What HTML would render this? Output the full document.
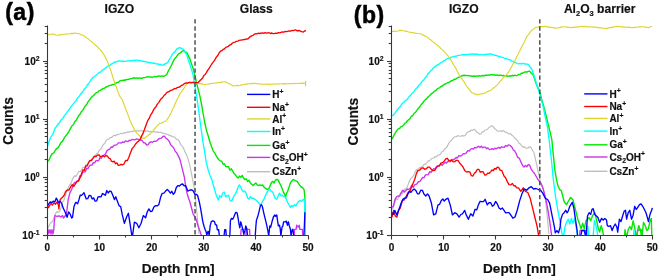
<!DOCTYPE html>
<html><head><meta charset="utf-8"><style>
html,body{margin:0;padding:0;background:#fff;width:660px;height:279px;overflow:hidden}
svg{display:block;will-change:transform}
</style></head><body>
<svg width="660" height="279" viewBox="0 0 660 279">
<rect width="660" height="279" fill="#fff"/>
<clipPath id="c47"><rect x="47.5" y="0" width="300" height="235"/></clipPath>
<g fill="none" stroke-linejoin="round" stroke-linecap="butt" clip-path="url(#c47)">
<polyline points="47.6,228.5 49.4,224.9 51.2,222.3 52.5,221.6 53.9,217.8 55.6,213.3 57.0,211.6 58.3,212.4 59.6,211.6 61.0,207.9 62.4,202.3 63.7,200.8 65.5,195.4 67.3,190.0 69.6,185.1 71.2,182.8 72.9,178.4 74.4,175.9 75.8,176.4 77.3,174.0 78.8,171.3 80.3,171.7 81.8,169.6 83.1,167.2 84.4,167.4 85.8,164.7 87.1,164.6 88.4,162.9 89.7,160.9 91.1,160.5 92.4,158.2 93.8,158.0 95.1,156.2 96.4,153.9 97.8,153.3 99.1,150.4 100.5,149.6 101.8,147.3 103.3,144.5 104.7,143.4 106.2,140.7 107.5,139.2 108.9,139.2 110.2,137.5 111.6,137.5 112.9,136.2 114.2,135.2 115.6,135.8 116.9,134.5 118.3,134.6 119.6,134.0 121.0,133.2 122.4,133.7 123.9,132.6 125.3,132.9 126.7,132.4 128.0,131.9 129.3,132.2 130.7,131.3 132.0,131.6 133.3,131.1 134.6,130.7 136.0,131.4 137.3,130.4 138.7,131.2 140.0,130.7 141.3,130.4 142.7,131.4 144.0,130.4 145.4,131.4 146.7,131.1 148.0,130.8 149.3,131.9 150.7,131.2 152.0,132.2 153.3,131.8 154.6,131.6 156.0,132.2 157.3,131.9 158.7,132.5 160.0,132.4 161.3,132.4 162.7,133.5 164.0,133.0 165.4,134.1 166.7,134.0 168.0,134.3 169.3,135.7 170.7,135.4 172.0,136.7 173.3,136.9 174.8,137.2 176.3,139.1 177.8,139.6 179.3,141.2 180.7,144.7 182.2,146.2 183.7,148.6 185.2,152.5 186.7,155.1 188.3,159.9 190.0,166.2 192.2,177.3 193.8,186.0 194.7,190.8 196.8,212.3 199.0,234.0" stroke="#bebebe" stroke-width="1.15"/>
<polyline points="47.6,238.0 48.0,229.6 49.0,233.0 50.0,229.6 51.0,234.0 52.0,229.6 53.0,234.0 53.8,229.6 54.3,222.0 55.0,215.5 57.0,216.5 59.0,215.8 61.0,217.0 62.5,215.5 63.5,218.0 65.0,216.0 66.3,215.5 67.3,207.0 68.2,199.5 70.0,192.7 71.5,190.0 72.9,185.6 74.6,182.4 76.2,182.2 77.3,180.7 78.6,180.3 80.0,175.6 81.3,176.0 82.7,172.3 84.0,171.8 85.3,171.8 86.7,168.3 88.0,168.7 89.4,166.0 90.7,165.1 92.0,165.1 93.3,162.6 94.7,162.8 96.0,160.5 97.3,160.7 98.6,160.7 100.0,157.6 101.3,158.3 102.7,155.6 104.0,155.1 105.5,154.0 106.9,150.8 108.4,149.6 109.7,149.1 111.1,147.0 112.4,147.3 113.8,145.6 115.1,145.1 116.7,144.9 118.4,142.9 120.0,142.9 121.3,143.0 122.7,141.9 124.0,142.5 125.4,140.9 126.7,141.3 128.0,141.5 129.3,140.3 130.7,140.5 132.0,139.4 133.3,139.6 134.8,139.9 136.3,139.0 137.8,139.1 139.3,140.0 140.7,139.8 142.2,140.7 143.7,142.8 145.2,143.0 146.7,145.1 148.2,144.7 149.6,142.4 151.1,141.8 152.6,142.3 154.1,141.2 155.6,141.3 157.1,140.6 158.5,139.0 160.0,138.4 161.5,138.2 162.9,136.4 164.4,136.2 166.1,138.3 167.8,139.6 169.3,141.5 170.7,144.7 172.2,146.2 173.7,147.9 175.2,151.3 176.7,152.9 178.3,155.9 180.0,159.6 182.2,168.4 184.4,177.3 185.6,186.0 186.9,192.6 188.2,197.2 189.8,201.5 191.5,208.0 193.1,213.8 194.7,216.6 196.3,219.8 197.9,225.2 200.1,231.6 202.2,238.0 203.5,238.0 204.8,238.0 206.0,238.0 207.3,238.0 208.6,238.0 209.9,238.0 211.1,238.0 212.4,238.0 213.7,238.0 215.0,238.0 216.2,238.0 217.5,238.0 218.8,238.0 220.1,238.0 221.3,238.0 222.6,238.0 223.9,238.0 225.2,238.0 226.5,238.0 227.7,238.0 229.0,238.0 230.3,238.0 231.6,238.0 232.8,238.0 234.1,238.0 235.4,238.0 236.7,238.0 237.9,238.0 239.2,238.0 240.5,238.0 241.2,229.3 243.5,229.3 243.9,238.0 245.8,238.0 246.2,229.3 247.9,229.3 249.6,229.3 250.0,238.0 251.3,238.0 252.5,238.0 253.8,238.0 255.0,238.0 256.3,238.0 257.5,238.0 258.8,238.0 260.1,238.0 261.3,238.0 262.6,238.0 263.8,238.0 265.1,238.0 266.3,238.0 267.6,238.0 268.9,238.0 270.1,238.0 271.4,238.0 272.6,238.0 273.9,238.0 275.1,238.0 276.4,238.0 277.7,238.0 278.9,238.0 280.2,238.0 281.4,238.0 282.7,238.0 283.9,238.0 285.2,238.0 286.5,238.0 287.7,238.0 289.0,238.0 290.2,238.0 291.5,238.0 292.7,238.0 294.0,238.0 294.5,229.3 296.2,229.3 296.6,225.2 298.0,227.1 299.3,225.2 299.8,229.3 301.1,229.3 302.4,229.3 303.0,238.0" stroke="#cc33ee" stroke-width="1.35"/>
<polyline points="47.3,161.8 49.0,160.0 50.7,156.2 52.2,153.6 53.6,153.2 55.1,150.7 56.6,148.5 58.1,147.8 59.6,145.1 61.1,142.4 62.5,141.4 64.0,138.4 65.7,135.9 67.3,134.0 69.0,131.4 70.7,128.2 72.0,125.7 73.3,124.7 74.7,121.8 76.0,120.6 77.3,118.2 78.6,115.8 80.0,114.3 81.3,111.8 82.7,110.4 84.0,108.2 85.3,106.0 86.7,104.5 88.0,101.9 89.4,100.3 90.7,98.2 92.2,96.5 93.6,95.6 95.1,93.8 96.4,92.7 97.8,92.2 99.1,90.8 100.5,90.4 101.8,89.3 103.1,88.4 104.4,88.3 105.8,87.0 107.1,86.8 108.4,86.0 109.7,85.4 111.1,85.4 112.4,84.5 113.8,84.6 115.1,83.8 116.7,82.6 118.4,82.2 120.0,80.9 121.3,80.5 122.5,80.6 123.8,80.0 125.1,80.3 126.4,79.4 127.6,79.6 128.9,79.3 130.4,78.6 131.8,78.6 133.3,78.0 134.6,77.8 135.8,78.3 137.1,77.8 138.4,78.3 139.7,77.9 140.9,78.3 142.2,78.2 143.7,77.6 145.2,77.6 146.7,76.9 148.0,76.7 149.3,77.2 150.7,76.8 152.0,77.3 153.3,77.1 154.8,76.4 156.3,76.8 157.8,76.2 159.1,75.9 160.4,76.3 161.8,75.9 163.1,76.4 164.4,76.0 166.7,74.7 168.3,71.0 170.0,68.0 171.5,65.2 172.9,61.9 174.4,59.1 175.9,57.6 177.4,55.3 178.9,53.6 180.4,52.9 181.8,51.4 183.3,50.7 185.0,51.8 186.7,52.4 188.3,55.6 190.0,59.1 191.7,64.4 193.3,69.1 194.9,75.6 196.5,82.5 198.2,89.3 199.8,95.7 201.5,104.0 203.2,114.0 205.0,124.0 206.7,131.1 208.3,136.2 210.0,142.2 211.7,147.0 213.3,151.1 215.0,153.4 216.7,156.7 218.6,159.5 220.4,161.1 221.7,161.3 223.1,164.3 224.4,163.8 225.8,166.6 227.1,166.7 228.5,166.6 229.9,170.2 231.3,168.8 232.7,171.1 234.0,173.4 235.4,174.7 236.7,176.8 238.1,178.1 239.4,176.1 240.8,177.4 242.2,175.4 243.5,178.1 244.9,179.5 246.3,178.8 247.6,181.5 249.0,180.2 250.3,182.9 251.7,184.3 253.1,185.6 254.4,184.3 255.8,182.9 257.2,184.9 258.5,185.6 259.9,184.9 261.2,185.6 262.6,184.9 264.0,187.0 265.3,188.3 266.7,189.0 268.1,189.7 269.4,187.7 270.8,183.9 272.0,181.8 272.7,181.5 274.1,182.9 275.4,180.2 276.8,179.5 278.2,180.2 279.5,182.9 280.9,185.6 282.3,189.0 283.6,192.4 285.0,195.2 285.7,197.2 286.3,193.8 287.7,191.1 289.1,187.0 290.4,182.9 291.8,180.9 293.2,179.5 294.5,180.2 295.9,180.9 297.2,181.5 298.6,183.6 300.0,185.6 301.3,187.0 302.7,187.7 304.1,189.7 304.8,196.5 305.0,210.0 305.1,238.0" stroke="#00e800" stroke-width="1.4"/>
<polyline points="47.3,147.3 48.4,142.9 50.7,137.3 52.9,134.0 55.1,128.2 56.4,126.6 57.8,124.4 59.1,123.4 60.5,120.9 61.8,119.3 63.1,118.0 64.4,115.5 65.8,114.2 67.1,112.0 68.4,110.4 69.7,108.8 71.1,106.7 72.4,105.3 73.8,103.1 75.1,101.6 76.4,100.2 77.8,97.7 79.1,96.5 80.5,94.3 81.8,92.7 83.1,91.1 84.4,88.9 85.8,87.7 87.1,85.3 88.4,83.8 90.0,81.7 91.5,79.0 93.3,77.3 95.1,76.0 96.6,75.0 98.1,73.4 99.6,72.4 100.9,71.8 102.1,70.3 103.4,69.7 104.6,68.5 105.9,67.8 107.1,66.5 108.4,65.8 109.7,65.4 111.1,64.1 112.4,63.7 113.8,62.5 115.1,62.0 116.6,61.9 118.1,61.0 119.6,60.9 121.1,61.3 122.5,61.0 124.0,61.3 125.6,61.4 127.3,60.8 128.9,60.9 130.2,61.0 131.4,60.6 132.7,60.7 134.0,60.2 135.3,60.5 136.5,60.1 137.8,60.2 139.1,60.6 140.3,60.5 141.6,61.3 142.9,61.1 144.2,61.7 145.4,61.4 146.7,62.0 148.0,62.5 149.2,62.3 150.5,63.0 151.8,62.7 153.1,63.4 154.3,63.1 155.6,63.6 156.9,64.0 158.2,63.9 159.4,64.6 160.7,64.3 162.0,65.2 163.3,65.1 164.8,63.9 166.3,63.5 167.8,62.4 169.3,59.7 170.7,57.4 172.2,54.7 173.7,52.7 175.2,51.3 176.7,49.1 178.3,48.1 180.0,47.6 181.7,48.6 183.3,49.1 185.0,51.6 186.7,54.7 188.3,59.9 190.0,64.7 191.7,70.1 193.3,75.8 194.5,84.0 196.5,95.7 198.9,112.0 201.1,128.9 203.3,144.4 204.4,150.0 206.0,161.1 208.2,170.0 209.9,175.2 211.6,178.9 213.8,186.7 216.0,194.4 218.2,200.0 219.7,195.7 221.2,197.2 222.7,193.3 224.2,191.9 225.6,196.7 227.1,195.6 228.6,195.3 230.1,200.9 231.6,201.1 234.0,195.8 235.4,193.8 236.7,191.1 238.1,187.0 239.4,184.9 240.8,187.0 242.2,190.4 243.5,191.8 244.9,191.1 246.3,193.8 247.6,197.9 249.0,199.2 250.3,196.5 251.7,198.6 253.1,197.9 254.4,199.2 255.8,199.9 257.2,201.3 258.5,202.7 259.9,204.7 261.2,204.0 262.6,201.3 264.0,199.2 265.3,195.8 266.7,193.1 268.1,190.4 269.4,189.0 270.8,190.7 272.0,192.0 272.7,191.8 274.1,195.8 275.4,198.6 276.8,199.2 278.2,195.8 279.5,193.1 280.9,195.8 282.3,195.2 283.6,196.5 285.0,197.2 286.3,199.2 287.7,202.7 289.1,204.7 290.4,207.4 291.8,205.4 293.2,206.7 294.5,204.7 295.9,206.1 297.2,203.3 298.6,201.3 300.0,200.6 301.3,201.3 302.7,199.9 304.1,199.2 304.6,202.0 304.9,210.0 305.0,238.0" stroke="#00ffff" stroke-width="1.35"/>
<polyline points="47.5,34.5 48.9,34.5 50.2,34.2 51.5,34.3 52.9,34.0 54.4,34.4 55.8,35.0 57.3,35.3 58.9,34.9 60.4,34.9 62.0,34.5 63.4,34.2 64.8,34.3 66.2,34.0 67.5,33.8 68.7,34.0 70.0,33.8 71.3,33.4 72.5,33.6 73.8,33.1 75.1,33.1 76.6,33.5 78.1,33.5 79.6,34.0 81.1,34.8 82.5,35.1 84.0,35.8 85.5,37.1 86.9,37.9 88.4,39.1 89.9,40.4 91.4,41.5 92.9,42.9 94.6,44.4 96.2,45.8 97.7,47.1 99.2,48.9 100.7,50.2 102.3,52.3 104.0,54.7 105.7,58.1 107.3,61.3 109.0,65.6 110.7,70.2 112.5,76.0 113.8,80.0 115.1,83.8 116.6,87.8 118.1,92.1 119.6,96.0 121.0,97.8 122.4,100.0 124.8,106.5 126.0,109.8 127.3,112.9 129.7,119.4 132.1,125.0 134.5,129.8 136.9,133.1 138.2,134.3 139.4,135.8 141.8,137.9 144.2,138.4 146.6,136.8 149.0,134.7 150.2,133.7 151.5,132.3 153.9,129.8 155.5,127.6 157.1,126.1 159.5,123.4 161.1,123.2 162.7,122.6 164.3,121.5 166.0,121.0 168.4,117.7 169.8,115.3 171.1,112.7 172.6,109.3 174.1,106.2 175.6,102.7 177.1,99.6 178.5,96.9 180.0,93.8 181.7,91.3 183.3,89.1 184.9,86.8 186.6,84.1 188.2,82.9 189.9,82.0 191.5,82.1 193.2,81.7 194.8,81.7 196.4,82.6 198.1,83.3 199.4,83.4 200.7,83.9 202.1,83.9 203.4,84.4 204.7,84.5 206.1,84.2 207.5,84.2 208.8,83.8 210.2,83.8 211.6,83.4 213.0,83.3 214.3,83.2 215.6,82.9 216.9,82.9 218.2,82.5 219.5,82.5 220.9,82.4 222.4,81.9 223.9,82.0 225.3,81.7 226.7,82.2 228.0,83.2 229.4,83.8 231.1,84.6 232.7,85.8 234.3,85.8 236.0,85.6 237.3,85.4 238.7,85.7 240.0,85.4 241.6,84.9 243.3,84.7 244.9,84.2 246.2,83.9 247.4,84.1 248.7,83.7 250.0,83.8 251.3,83.4 252.5,83.6 253.8,83.3 255.1,83.3 256.3,83.8 257.6,83.5 258.9,84.0 260.2,83.8 261.4,84.2 262.7,84.2 264.0,84.1 265.2,84.3 266.5,84.0 267.8,84.4 269.1,84.0 270.3,84.4 271.6,84.2 272.9,84.0 274.1,84.2 275.4,83.9 276.6,84.0 277.9,83.7 279.1,84.0 280.4,83.8 281.7,83.7 282.9,83.9 284.2,83.6 285.5,83.9 286.8,83.5 288.0,83.7 289.3,83.6 290.6,83.5 291.8,83.7 293.1,83.3 294.4,83.7 295.7,83.4 296.9,83.5 298.2,83.4 299.6,83.2 301.1,83.4 302.5,83.1 304.0,83.4 305.4,83.2 305.6,81.2 305.6,86.2" stroke="#ddd52c" stroke-width="1.15"/>
<polyline points="47.2,216.5 47.4,206.0 48.6,207.5 49.4,205.8 50.9,203.5 52.5,205.0 54.0,202.7 55.5,204.2 57.1,201.9 58.4,205.0 58.9,209.0 59.4,204.0 60.2,199.6 61.7,198.1 63.2,196.5 64.6,194.5 65.5,191.8 67.3,190.0 69.0,190.1 70.7,186.7 72.2,184.6 73.6,186.6 75.1,184.4 76.8,181.7 78.4,181.1 80.1,177.8 81.8,172.9 83.1,169.8 84.4,170.3 85.8,166.0 87.1,165.9 88.4,162.9 89.9,160.4 91.4,160.5 92.9,158.4 94.4,156.2 95.8,156.7 97.3,155.1 98.8,154.8 100.3,156.6 101.8,156.2 103.2,155.7 104.5,156.9 105.9,155.4 107.3,156.2 108.7,158.0 110.1,158.6 111.5,161.2 112.9,161.8 114.2,161.2 115.6,163.7 116.9,162.9 118.3,165.4 119.6,165.1 121.1,164.3 122.5,164.8 124.0,164.0 125.6,160.5 127.3,160.7 128.9,157.3 130.6,152.4 132.2,148.4 133.9,146.6 135.6,144.0 137.1,142.3 138.5,141.4 140.0,139.6 141.7,135.9 143.3,132.9 145.6,126.2 147.8,120.4 149.2,118.4 150.6,115.1 151.9,113.2 153.3,110.4 154.6,108.2 156.0,106.7 157.3,104.1 158.7,102.6 160.0,100.4 161.3,98.6 162.7,97.5 164.0,95.5 165.4,94.4 166.7,92.7 168.0,91.9 169.3,91.5 170.7,90.4 172.0,90.2 173.3,89.3 174.6,88.6 176.0,88.6 177.3,87.4 178.7,87.4 180.0,86.7 181.6,85.3 183.3,84.6 184.9,83.3 186.2,82.8 187.4,83.2 188.7,82.6 189.9,82.5 191.5,82.8 193.2,82.3 194.8,82.5 196.4,82.7 198.1,82.5 199.8,80.7 201.4,79.2 202.7,77.9 203.9,75.5 205.2,74.4 206.4,72.6 207.8,70.1 209.1,68.5 210.5,66.0 212.2,63.4 213.8,61.3 215.1,59.4 216.4,57.0 217.8,55.5 219.1,53.0 220.4,51.3 221.7,50.7 223.1,49.4 224.4,49.0 225.8,47.4 227.1,46.9 228.4,46.3 229.8,44.9 231.1,44.5 232.5,43.0 233.8,42.4 235.1,42.1 236.4,41.3 237.8,41.2 239.1,40.3 240.4,40.2 241.7,40.1 243.1,39.6 244.4,39.7 245.8,39.0 247.1,39.1 248.6,38.3 250.1,36.7 251.6,35.8 253.1,35.3 254.5,34.1 256.0,33.6 257.3,33.8 258.6,33.2 259.8,33.5 261.1,33.1 262.4,32.8 263.8,33.3 265.1,32.7 266.5,33.2 267.8,32.9 269.1,32.7 270.4,33.5 271.8,33.0 273.1,33.6 274.4,33.6 275.7,33.1 277.1,33.4 278.4,32.7 279.8,32.9 281.1,32.4 282.4,31.9 283.8,32.2 285.1,31.4 286.5,31.7 287.8,31.3 289.1,30.9 290.4,31.2 291.8,30.5 293.1,30.7 294.4,30.2 295.8,30.0 297.2,30.9 298.6,30.5 300.0,30.9 301.6,31.7 303.3,32.0 304.6,31.0 306.0,30.7" stroke="#ff0000" stroke-width="1.35"/>
<polyline points="47.0,206.5 48.6,204.2 50.2,201.9 51.7,202.7 53.2,201.2 54.8,201.9 56.3,198.1 57.5,200.4 58.6,202.7 60.2,201.2 61.7,203.5 63.2,208.1 64.8,211.2 66.3,215.0 67.1,217.3 68.6,211.9 70.2,214.2 71.7,218.1 72.5,217.3 74.0,206.5 75.5,202.7 76.3,202.5 77.6,203.9 78.9,199.9 80.2,195.2 81.6,195.4 84.0,192.7 86.2,198.9 87.7,198.7 89.2,195.4 90.7,195.6 92.2,199.0 93.6,197.9 95.1,201.1 96.6,200.9 98.1,196.8 99.6,196.7 101.1,196.8 102.5,193.5 104.0,194.4 105.4,195.3 106.8,190.5 108.2,193.0 109.6,191.1 111.2,191.5 112.9,195.6 114.4,199.6 115.8,196.8 117.3,201.1 119.0,205.6 120.7,206.7 122.2,214.4 124.4,223.3 126.7,216.7 128.4,213.3 130.0,223.3 132.2,238.0 134.4,222.2 136.7,223.3 138.9,227.8 141.1,223.3 143.3,215.6 145.6,217.8 147.2,212.0 148.9,208.9 150.6,211.6 152.2,211.1 153.9,207.1 155.6,205.6 157.2,205.9 158.9,204.4 160.6,197.3 162.2,193.3 163.9,193.2 165.6,191.1 167.2,189.5 168.9,191.1 170.4,193.1 171.8,191.3 173.3,194.4 174.8,192.5 176.3,187.5 177.8,185.6 179.4,186.0 181.1,184.4 182.6,184.0 184.1,185.8 185.6,185.6 187.8,191.1 190.0,190.0 191.7,189.8 193.3,191.1 195.0,194.5 196.7,194.5 197.6,195.5 199.2,201.5 200.5,207.9 201.6,214.4 202.8,221.6 204.1,226.5 205.2,229.7 206.0,231.3 206.8,235.0 208.1,231.3 209.2,235.0 210.2,225.6 211.3,221.6 212.9,220.8 214.5,221.6 215.4,224.8 216.6,224.8 217.3,229.7 218.6,229.7 219.4,236.0 219.8,238.0 221.1,238.0 222.5,238.0 223.8,238.0 224.2,234.5 224.7,229.7 225.8,229.7 226.3,236.0 226.6,238.0 228.1,238.0 229.6,238.0 229.9,234.5 230.4,220.8 231.5,218.4 232.8,219.2 233.9,216.8 235.5,212.7 236.0,212.3 237.1,212.9 238.0,217.7 239.0,223.8 239.8,227.9 240.8,221.8 241.7,225.2 242.8,229.3 243.8,234.0 244.9,230.7 245.8,225.9 246.9,229.3 247.6,236.0 248.0,238.0 249.4,238.0 250.8,238.0 252.2,238.0 253.6,238.0 255.0,238.0 255.3,234.7 255.8,227.2 256.4,220.4 257.8,216.3 259.2,210.9 260.5,205.4 261.6,204.8 262.6,207.5 263.9,213.6 265.3,219.1 266.7,225.2 268.0,231.3 268.7,236.0 269.8,225.9 270.7,227.2 272.0,221.8 273.4,217.0 274.8,215.0 275.7,216.3 276.8,215.0 277.5,220.4 278.4,225.9 279.5,225.2 280.2,228.6 280.9,236.0 282.0,227.2 282.9,225.9 283.6,221.8 285.0,221.8 286.3,221.1 287.4,225.2 288.4,221.8 289.3,225.9 290.4,229.3 291.1,236.0 292.1,230.0 292.9,229.3 293.8,236.0 294.2,238.0 295.5,238.0 296.9,238.0 298.2,238.0 299.6,238.0 300.9,238.0 302.3,238.0 303.6,238.0 303.9,234.7 304.3,227.2 304.6,220.4 304.9,212.3" stroke="#0000ff" stroke-width="1.35"/>
</g>
<line x1="195.05" y1="19.2" x2="195.05" y2="235.5" stroke="#4a4a4a" stroke-width="1.45" stroke-dasharray="4.4 2.63"/>
<g stroke="#383838" stroke-width="1.1" fill="none">
<line x1="47.5" y1="25.5" x2="47.5" y2="236"/>
<line x1="43.5" y1="235.5" x2="308.6" y2="235.5"/>
<line x1="43.0" y1="235.5" x2="47.5" y2="235.5"/>
<line x1="44.7" y1="217.5" x2="47.5" y2="217.5"/>
<line x1="44.7" y1="207.5" x2="47.5" y2="207.5"/>
<line x1="44.7" y1="200.5" x2="47.5" y2="200.5"/>
<line x1="44.7" y1="194.5" x2="47.5" y2="194.5"/>
<line x1="44.7" y1="190.5" x2="47.5" y2="190.5"/>
<line x1="44.7" y1="186.5" x2="47.5" y2="186.5"/>
<line x1="44.7" y1="182.5" x2="47.5" y2="182.5"/>
<line x1="44.7" y1="179.5" x2="47.5" y2="179.5"/>
<line x1="43.0" y1="177.5" x2="47.5" y2="177.5"/>
<line x1="44.7" y1="159.5" x2="47.5" y2="159.5"/>
<line x1="44.7" y1="149.5" x2="47.5" y2="149.5"/>
<line x1="44.7" y1="142.5" x2="47.5" y2="142.5"/>
<line x1="44.7" y1="136.5" x2="47.5" y2="136.5"/>
<line x1="44.7" y1="132.5" x2="47.5" y2="132.5"/>
<line x1="44.7" y1="128.5" x2="47.5" y2="128.5"/>
<line x1="44.7" y1="124.5" x2="47.5" y2="124.5"/>
<line x1="44.7" y1="121.5" x2="47.5" y2="121.5"/>
<line x1="43.0" y1="119.5" x2="47.5" y2="119.5"/>
<line x1="44.7" y1="101.5" x2="47.5" y2="101.5"/>
<line x1="44.7" y1="91.5" x2="47.5" y2="91.5"/>
<line x1="44.7" y1="84.5" x2="47.5" y2="84.5"/>
<line x1="44.7" y1="78.5" x2="47.5" y2="78.5"/>
<line x1="44.7" y1="73.5" x2="47.5" y2="73.5"/>
<line x1="44.7" y1="70.5" x2="47.5" y2="70.5"/>
<line x1="44.7" y1="66.5" x2="47.5" y2="66.5"/>
<line x1="44.7" y1="63.5" x2="47.5" y2="63.5"/>
<line x1="43.0" y1="61.5" x2="47.5" y2="61.5"/>
<line x1="44.7" y1="43.5" x2="47.5" y2="43.5"/>
<line x1="44.7" y1="33.5" x2="47.5" y2="33.5"/>
<line x1="44.7" y1="26.5" x2="47.5" y2="26.5"/>
<line x1="47.5" y1="235.5" x2="47.5" y2="239.5"/>
<line x1="73.5" y1="235.5" x2="73.5" y2="237.5"/>
<line x1="99.5" y1="235.5" x2="99.5" y2="239.5"/>
<line x1="125.5" y1="235.5" x2="125.5" y2="237.5"/>
<line x1="151.5" y1="235.5" x2="151.5" y2="239.5"/>
<line x1="177.5" y1="235.5" x2="177.5" y2="237.5"/>
<line x1="203.5" y1="235.5" x2="203.5" y2="239.5"/>
<line x1="229.5" y1="235.5" x2="229.5" y2="237.5"/>
<line x1="255.5" y1="235.5" x2="255.5" y2="239.5"/>
<line x1="282.5" y1="235.5" x2="282.5" y2="237.5"/>
<line x1="308.5" y1="235.5" x2="308.5" y2="239.5"/>
</g>
<g font-family="Liberation Sans, sans-serif" font-weight="bold" stroke="#111" stroke-width="0.18" font-size="10" fill="#111" text-anchor="middle">
<text x="47.4" y="251.3">0</text>
<text x="99.5" y="251.3">10</text>
<text x="151.7" y="251.3">20</text>
<text x="203.8" y="251.3">30</text>
<text x="256.0" y="251.3">40</text>
<text x="308.1" y="251.3">50</text>
</g>
<g font-family="Liberation Sans, sans-serif" font-weight="bold" stroke="#111" stroke-width="0.18" font-size="10" fill="#111" text-anchor="end">
<text x="39.5" y="239.2">10<tspan font-size="6.8" dy="-4.2">-1</tspan></text>
<text x="39.5" y="181.1">10<tspan font-size="6.8" dy="-4.2">0</tspan></text>
<text x="39.5" y="123.0">10<tspan font-size="6.8" dy="-4.2">1</tspan></text>
<text x="39.5" y="64.9">10<tspan font-size="6.8" dy="-4.2">2</tspan></text>
</g>
<line x1="247" y1="94.4" x2="270.3" y2="94.4" stroke="#0000ff" stroke-width="1.4"/>
<text font-family="Liberation Sans, sans-serif" font-weight="bold" stroke="#111" stroke-width="0.18" font-size="10" fill="#111" x="272.2" y="98.0">H<tspan font-size="6.8" dy="-4.2">+</tspan></text>
<line x1="247" y1="107.3" x2="270.3" y2="107.3" stroke="#ff0000" stroke-width="1.4"/>
<text font-family="Liberation Sans, sans-serif" font-weight="bold" stroke="#111" stroke-width="0.18" font-size="10" fill="#111" x="272.2" y="110.9">Na<tspan font-size="6.8" dy="-4.2">+</tspan></text>
<line x1="247" y1="118.9" x2="270.3" y2="118.9" stroke="#ddd52c" stroke-width="1.4"/>
<text font-family="Liberation Sans, sans-serif" font-weight="bold" stroke="#111" stroke-width="0.18" font-size="10" fill="#111" x="272.2" y="122.5">Al<tspan font-size="6.8" dy="-4.2">+</tspan></text>
<line x1="247" y1="131.5" x2="270.3" y2="131.5" stroke="#00ffff" stroke-width="1.4"/>
<text font-family="Liberation Sans, sans-serif" font-weight="bold" stroke="#111" stroke-width="0.18" font-size="10" fill="#111" x="272.2" y="135.1">In<tspan font-size="6.8" dy="-4.2">+</tspan></text>
<line x1="247" y1="145.4" x2="270.3" y2="145.4" stroke="#00e800" stroke-width="1.4"/>
<text font-family="Liberation Sans, sans-serif" font-weight="bold" stroke="#111" stroke-width="0.18" font-size="10" fill="#111" x="272.2" y="149.0">Ga<tspan font-size="6.8" dy="-4.2">+</tspan></text>
<line x1="247" y1="157.4" x2="270.3" y2="157.4" stroke="#cc33ee" stroke-width="1.4"/>
<text font-family="Liberation Sans, sans-serif" font-weight="bold" stroke="#111" stroke-width="0.18" font-size="10" fill="#111" x="272.2" y="161.0">Cs<tspan font-size="6.8" dy="2.5">2</tspan><tspan dy="-2.5">OH</tspan><tspan font-size="6.8" dy="-4.2">+</tspan></text>
<line x1="247" y1="171.7" x2="270.3" y2="171.7" stroke="#bebebe" stroke-width="1.4"/>
<text font-family="Liberation Sans, sans-serif" font-weight="bold" stroke="#111" stroke-width="0.18" font-size="10" fill="#111" x="272.2" y="175.3">CsZn<tspan font-size="6.8" dy="-4.2">+</tspan></text>
<clipPath id="c391"><rect x="391.5" y="0" width="300" height="235"/></clipPath>
<g fill="none" stroke-linejoin="round" stroke-linecap="butt" clip-path="url(#c391)">
<polyline points="392.0,209.3 393.4,207.6 394.7,202.7 396.2,198.8 397.6,199.6 399.1,196.0 400.6,192.7 402.1,193.9 403.6,191.6 405.1,188.8 406.5,188.7 408.0,184.9 409.6,180.5 411.3,178.2 412.4,177.1 413.9,175.0 415.4,171.3 416.9,169.3 418.4,169.1 419.8,167.4 421.3,167.1 422.7,166.4 424.1,164.2 425.5,164.4 426.9,162.7 428.3,160.9 429.6,161.0 431.0,159.0 432.4,158.2 433.7,158.0 435.1,156.5 436.4,157.1 437.8,155.0 439.1,154.9 440.4,154.3 441.8,151.7 443.1,151.2 444.5,149.0 445.8,148.2 447.3,146.5 448.7,143.3 450.2,141.6 451.7,140.3 453.2,137.9 454.7,136.7 456.2,136.7 457.6,135.6 459.1,136.0 460.7,136.3 462.4,135.6 464.0,136.0 465.5,135.1 466.9,132.8 468.4,131.6 469.8,131.5 471.2,130.0 472.6,130.4 474.0,129.3 475.4,130.3 476.8,132.2 478.2,132.6 479.6,134.3 480.9,134.0 482.2,131.9 483.6,131.8 484.9,130.2 486.2,129.8 487.6,129.2 489.0,127.5 490.4,126.8 491.8,125.6 493.2,126.7 494.6,128.6 495.9,129.4 497.3,131.0 498.6,131.3 500.0,130.8 501.3,131.5 502.7,130.6 504.0,131.0 505.5,132.4 506.9,132.4 508.4,133.8 510.7,133.8 512.1,135.6 513.5,136.3 514.8,138.3 516.2,139.3 517.6,140.6 519.0,143.2 520.4,144.1 521.8,146.0 523.3,147.4 524.7,146.9 526.2,148.2 527.7,148.2 529.2,146.9 530.7,147.1 532.4,150.3 534.0,152.7 536.2,162.7 538.4,172.7 540.7,183.8 542.0,185.4 543.3,189.3 545.6,200.4 547.3,216.0 548.9,234.0" stroke="#bebebe" stroke-width="1.15"/>
<polyline points="392.0,207.1 393.4,206.2 394.7,200.4 396.4,196.9 398.0,196.0 399.6,196.2 401.3,192.7 402.8,190.1 404.3,192.0 405.8,190.4 407.3,189.0 408.7,189.6 410.2,188.2 411.7,185.3 413.2,187.3 414.7,184.9 416.9,183.8 418.4,181.6 419.8,181.7 421.3,179.3 422.7,177.3 424.1,177.8 425.5,174.8 426.9,174.9 428.3,174.6 429.6,171.7 431.0,172.4 432.4,170.4 433.8,168.6 435.2,169.1 436.6,166.3 438.0,166.0 439.4,165.9 440.8,163.9 442.2,165.2 443.6,163.8 445.0,162.2 446.4,163.2 447.7,161.5 449.1,161.6 450.5,161.7 451.9,159.4 453.3,159.9 454.7,158.9 456.1,157.5 457.4,158.0 458.8,155.7 460.2,156.0 461.7,155.7 463.2,153.6 464.7,153.8 466.2,153.2 467.7,150.7 469.2,151.0 470.7,149.3 472.0,148.5 473.3,149.2 474.7,147.4 476.0,148.0 477.3,147.1 478.6,146.3 480.0,147.6 481.3,146.3 482.7,147.7 484.0,147.1 485.3,147.2 486.7,148.7 488.0,147.9 489.4,149.6 490.7,149.3 492.0,148.6 493.3,149.5 494.7,148.2 496.0,148.9 497.3,148.2 498.7,147.4 500.1,148.4 501.5,146.8 502.9,147.1 504.3,147.4 505.6,145.5 507.0,146.2 508.4,144.9 510.1,145.4 511.8,147.1 513.3,150.0 514.7,150.9 516.2,153.8 517.7,157.4 519.2,158.1 520.7,161.6 522.4,165.2 524.0,167.1 525.4,165.5 526.8,166.8 528.2,164.6 529.6,164.9 531.2,169.2 532.9,171.6 534.5,173.5 536.2,176.5 537.9,179.5 539.6,181.5 541.1,183.5 543.3,189.3 545.6,198.2 547.8,209.3 549.6,220.4 551.1,231.6 552.0,238.0 553.2,238.0 554.5,238.0 555.8,238.0 557.0,238.0 558.2,238.0 559.5,238.0 560.8,238.0 562.0,238.0 563.2,238.0 564.5,238.0 565.8,238.0 567.0,238.0 568.2,238.0 569.5,238.0 570.8,238.0 572.0,238.0 573.2,238.0 574.5,238.0 575.8,238.0 577.0,238.0 578.2,238.0 579.5,238.0 580.0,230.5 581.5,230.5 583.0,230.5 584.5,230.5 586.0,230.5 586.5,238.0 587.8,238.0 589.0,238.0 590.3,238.0 591.5,238.0 592.8,238.0 594.1,238.0 595.3,238.0 596.6,238.0 597.9,238.0 599.1,238.0 600.4,238.0 601.6,238.0 602.9,238.0 604.2,238.0 605.4,238.0 606.7,238.0 608.0,238.0 609.2,238.0 610.5,238.0 611.8,238.0 613.0,238.0 614.3,238.0 615.5,238.0 616.8,238.0 618.1,238.0 619.3,238.0 620.6,238.0 621.9,238.0 623.1,238.0 624.4,238.0 625.6,238.0 626.9,238.0 628.2,238.0 629.4,238.0 630.7,238.0 632.0,238.0 633.2,238.0 634.5,238.0 635.7,238.0 637.0,238.0 637.5,230.0 639.0,230.0 640.5,230.0 642.0,230.0 642.5,238.0" stroke="#cc33ee" stroke-width="1.35"/>
<polyline points="391.8,139.0 393.2,136.9 394.7,133.8 396.9,130.4 398.2,128.9 399.6,128.5 400.9,126.8 402.3,126.4 403.6,124.9 404.9,123.2 406.2,122.5 407.6,120.5 408.9,119.7 410.2,118.2 411.5,116.2 412.9,115.5 414.2,113.2 415.6,112.2 416.9,110.4 418.2,108.4 419.6,107.1 420.9,105.0 422.3,103.6 423.6,101.6 424.9,100.0 426.2,99.2 427.6,97.4 428.9,96.4 430.2,94.9 431.5,93.6 432.9,92.8 434.2,91.4 435.6,90.7 436.9,89.3 438.2,88.2 439.6,87.8 440.9,86.5 442.3,86.0 443.6,84.9 444.9,84.0 446.2,83.8 447.6,82.7 448.9,82.5 450.2,81.6 451.5,80.7 452.9,80.4 454.2,79.3 455.6,79.2 456.9,78.2 458.4,77.3 459.8,76.9 461.3,76.0 463.0,75.5 464.7,75.3 466.1,75.6 467.4,75.5 468.8,75.9 470.2,75.6 471.5,76.2 472.9,76.2 474.2,76.0 475.4,76.4 476.7,75.9 478.0,76.3 479.3,75.6 480.5,76.2 481.8,75.8 483.1,75.5 484.3,75.8 485.6,75.1 486.9,75.3 488.2,74.9 489.4,75.2 490.7,74.7 492.0,74.6 493.2,75.1 494.5,74.8 495.8,75.4 497.1,74.8 498.3,75.5 499.6,75.3 500.9,75.2 502.1,75.7 503.4,75.4 504.6,76.1 505.9,75.6 507.1,76.2 508.4,76.2 509.7,75.8 510.9,76.1 512.2,75.5 513.5,75.8 514.8,75.2 516.0,75.7 517.3,75.3 518.6,74.5 520.0,74.5 521.3,73.3 522.7,73.2 524.0,72.4 525.4,71.8 526.8,72.1 528.2,71.4 529.6,71.3 531.2,73.1 532.9,74.5 534.2,77.8 535.4,81.7 536.7,84.9 538.4,88.5 540.0,92.7 541.6,99.0 543.3,104.9 545.0,111.4 546.7,118.2 548.4,125.2 550.0,131.6 551.8,139.3 553.3,154.9 554.9,170.4 556.7,180.4 558.0,186.0 560.0,190.0 561.2,190.4 562.5,195.0 564.1,201.5 566.5,204.7 568.2,201.5 570.6,197.4 573.0,199.8 574.6,206.3 576.2,212.7 577.8,219.2 579.5,224.0 581.1,228.9 582.7,223.2 584.3,228.9 585.9,220.8 587.5,219.2 589.1,217.6 590.7,220.8 592.4,216.0 594.8,212.7 596.4,219.2 598.0,227.3 599.6,232.1 601.2,225.6 602.4,229.7 604.0,238.0 605.3,238.0 606.6,238.0 607.8,238.0 609.1,238.0 610.4,238.0 611.7,238.0 613.0,238.0 614.2,238.0 615.5,238.0 616.8,238.0 618.1,238.0 619.4,238.0 620.7,238.0 621.9,238.0 623.2,238.0 624.5,238.0 625.0,229.7 626.6,238.0 628.2,229.7 629.8,226.5 631.5,229.7 633.1,220.8 634.7,227.3 636.3,238.0 638.7,225.6 640.3,229.7 641.9,238.0 643.5,222.4 645.2,225.6 646.8,230.5 648.4,228.9 650.0,220.8 651.3,218.4 651.9,238.0" stroke="#00e800" stroke-width="1.4"/>
<polyline points="392.0,116.0 393.6,114.9 395.2,112.9 396.9,110.4 398.4,108.3 399.8,107.0 401.3,104.9 402.6,103.2 404.0,102.4 405.3,100.5 406.7,99.8 408.0,98.2 409.3,96.5 410.7,95.3 412.0,93.2 413.4,92.3 414.7,90.4 416.0,88.7 417.3,87.5 418.7,85.5 420.0,84.6 421.3,82.7 422.7,80.9 424.1,79.5 425.5,77.3 426.9,76.0 428.0,73.6 429.3,72.6 430.7,70.7 432.0,69.9 433.4,67.9 434.7,66.9 436.0,66.2 437.3,64.8 438.7,64.5 440.0,63.2 441.3,62.4 442.6,61.9 444.0,60.6 445.3,60.3 446.7,59.0 448.0,58.4 449.5,58.1 450.9,57.2 452.4,56.9 453.7,56.9 455.1,56.1 456.4,56.3 457.8,55.3 459.1,55.3 460.7,55.2 462.4,54.7 464.0,54.7 465.3,54.9 466.5,54.4 467.8,54.7 469.1,54.2 470.4,54.3 471.6,53.9 472.9,54.0 474.2,54.4 475.4,54.0 476.7,54.5 478.0,54.1 479.3,54.8 480.5,54.4 481.8,54.7 483.1,54.8 484.3,54.3 485.6,54.7 486.9,54.2 488.2,54.4 489.4,53.8 490.7,54.0 492.0,54.5 493.3,54.6 494.7,55.3 496.0,55.3 497.3,55.8 498.6,56.5 500.0,56.5 501.3,57.3 502.7,57.3 504.0,58.0 505.3,58.6 506.7,58.7 508.0,59.5 509.4,59.5 510.7,60.2 512.0,61.1 513.3,61.3 514.7,62.5 516.0,62.7 517.3,63.6 518.6,63.8 520.0,63.3 521.3,64.0 522.7,63.4 524.0,63.6 525.5,64.2 526.9,64.0 528.4,64.7 530.1,67.0 531.8,69.1 534.0,75.8 535.4,80.0 536.7,84.9 538.4,90.0 540.0,94.9 541.6,100.7 543.3,107.1 544.6,113.9 546.0,120.4 547.3,126.0 549.6,143.8 551.8,163.8 553.3,179.3 555.3,195.0 557.7,209.5 560.1,222.4 561.7,232.1 563.3,238.0 564.9,227.3 566.5,222.4 568.2,219.2 569.8,224.0 571.4,218.4 573.0,223.2 574.6,218.4 576.2,227.3 577.8,238.0 579.1,238.0 580.4,238.0 581.7,238.0 583.1,238.0 584.4,238.0 585.7,238.0 587.0,238.0 587.8,226.0 589.0,238.0 590.3,238.0 591.7,238.0 593.0,238.0 594.4,220.4 596.7,228.2 598.0,238.0 599.3,238.0 600.5,238.0 601.8,238.0 603.1,238.0 604.3,238.0 605.6,238.0 606.9,238.0 608.1,238.0 609.4,238.0 610.7,238.0 611.9,238.0 613.2,238.0 614.5,238.0 615.8,238.0 617.0,238.0 618.3,238.0 619.6,238.0 620.8,238.0 622.1,238.0 623.4,238.0 624.6,238.0 625.9,238.0 627.2,238.0 628.4,238.0 629.7,238.0 631.0,238.0 632.2,238.0 633.5,238.0 633.9,230.0 634.4,238.0" stroke="#00ffff" stroke-width="1.35"/>
<polyline points="392.0,31.3 393.6,31.4 395.3,31.1 396.9,31.3 398.4,31.0 399.8,30.4 401.3,30.2 402.6,30.6 404.0,30.7 405.3,31.3 406.7,31.3 408.0,31.8 409.3,32.1 410.7,32.2 412.0,32.7 413.4,32.6 414.7,33.1 416.0,33.5 417.3,33.3 418.7,33.7 420.0,33.7 421.3,34.0 422.7,34.9 424.1,35.4 425.5,36.3 426.9,36.9 428.3,37.9 429.6,39.3 431.0,40.0 432.4,41.3 433.8,42.6 435.2,43.4 436.6,44.8 438.0,45.8 439.4,46.9 440.8,48.5 442.2,49.6 443.6,50.9 445.1,52.6 446.5,54.1 448.0,55.8 449.5,58.2 450.9,60.1 452.4,62.4 453.9,65.3 455.4,67.6 456.9,70.5 458.6,73.9 460.3,77.0 462.1,79.1 464.0,81.6 465.6,84.5 467.3,87.1 468.8,88.9 470.3,90.9 471.8,92.7 473.2,93.1 474.6,94.0 475.9,94.1 477.3,94.9 478.6,94.7 480.0,94.1 481.3,94.0 482.7,93.6 484.0,93.3 485.3,92.9 486.7,92.0 488.0,91.6 489.4,90.8 490.7,90.4 492.0,89.4 493.3,88.0 494.7,87.3 496.0,85.9 497.3,84.9 498.7,83.3 500.1,81.4 501.5,80.0 502.9,78.2 504.2,76.8 505.5,75.5 506.9,74.1 508.4,72.4 509.8,69.8 511.2,67.6 512.6,64.8 514.0,62.4 515.5,59.6 516.9,56.4 518.4,53.6 519.9,50.8 521.4,47.5 522.9,44.7 524.4,41.9 525.8,38.6 527.3,35.8 528.8,34.1 530.3,31.9 531.8,30.2 533.3,29.4 534.7,28.1 536.2,27.3 537.7,27.1 539.2,26.6 540.7,26.4 542.4,26.6 544.0,26.4 545.4,26.4 546.8,26.9 548.1,26.9 549.5,27.4 550.9,27.3 552.3,27.7 553.6,27.6 555.0,28.1 556.4,28.2 557.8,27.7 559.3,27.8 560.7,27.1 562.2,27.1 563.6,26.7 565.1,26.7 566.5,27.1 568.0,27.1 569.4,27.5 570.9,27.6 572.3,27.4 573.6,27.4 575.0,27.0 576.3,27.1 577.7,26.7 579.1,26.9 580.4,26.5 581.8,26.4 583.1,26.6 584.3,26.4 585.6,26.7 586.9,26.6 588.1,26.9 589.4,26.7 590.7,27.0 592.0,26.8 593.2,27.1 594.5,27.1 595.9,27.1 597.2,27.6 598.6,27.5 600.0,27.9 601.4,27.8 602.8,28.3 604.1,28.2 605.5,28.5 606.9,28.4 608.2,27.9 609.6,27.9 611.0,27.3 612.3,27.4 613.7,26.8 615.0,26.8 616.4,26.4 617.7,26.4 618.9,26.7 620.2,26.6 621.4,26.9 622.7,26.7 623.9,27.1 625.2,27.0 626.4,27.3 627.7,27.1 628.9,27.4 630.2,27.2 631.4,27.7 632.7,27.6 634.0,27.4 635.3,27.4 636.6,27.2 637.9,27.3 639.2,26.8 640.5,26.9 641.8,26.7 643.3,26.8 644.7,27.1 646.2,27.1 647.6,27.5 649.1,27.6 650.5,26.8 651.8,26.4" stroke="#ddd52c" stroke-width="1.15"/>
<polyline points="392.0,217.1 393.6,210.4 395.2,215.9 396.9,217.1 398.5,210.0 400.2,208.2 402.4,200.4 404.1,200.0 405.8,197.1 408.0,192.7 410.2,190.4 412.4,184.9 414.7,179.3 416.4,173.6 418.0,170.4 419.6,170.2 421.3,168.2 423.0,167.8 424.7,169.3 426.4,168.7 428.0,167.1 429.6,167.2 431.3,169.3 433.0,170.7 434.7,170.4 436.4,167.5 438.0,166.0 439.5,165.6 440.9,163.1 442.4,162.7 444.1,161.3 445.8,158.9 447.3,158.3 448.7,160.3 450.2,160.4 451.7,160.2 453.2,161.9 454.7,161.6 456.4,160.3 458.0,160.4 459.6,163.0 461.3,164.9 463.0,167.0 464.7,170.4 466.5,171.9 468.4,171.6 469.9,172.1 471.4,175.7 472.9,176.0 474.4,173.2 475.8,172.1 477.3,169.3 478.8,169.3 480.3,172.2 481.8,171.6 483.3,172.0 484.7,175.0 486.2,174.9 487.7,173.2 489.2,173.3 490.7,171.6 492.0,170.0 493.3,170.7 494.7,168.4 496.0,169.2 497.3,167.1 498.8,167.7 500.3,170.4 501.8,170.4 504.0,176.0 505.6,177.8 507.3,181.6 509.0,184.6 510.7,184.9 512.4,183.5 514.0,186.0 515.0,185.5 516.8,187.8 518.5,187.8 520.8,191.3 523.2,187.8 525.5,191.3 527.8,192.5 530.2,198.3 532.5,207.6 534.8,217.0 537.1,226.3 539.0,238.0 539.6,238.0" stroke="#ff0000" stroke-width="1.35"/>
<polyline points="392.0,212.7 393.4,214.2 394.7,210.4 396.9,214.9 399.1,209.3 401.3,202.7 403.0,199.1 404.7,198.2 406.4,197.8 408.0,193.8 409.5,191.4 410.9,192.4 412.4,190.4 414.1,188.9 415.8,190.4 417.5,193.8 419.1,193.8 420.8,190.2 422.4,190.4 424.1,194.2 425.8,196.0 427.5,193.9 429.1,196.0 431.3,202.7 433.6,214.9 435.8,213.8 438.0,204.9 439.6,204.3 441.3,200.4 442.8,198.9 444.3,201.1 445.8,199.3 448.0,198.2 450.2,204.9 452.4,214.9 454.7,212.7 456.9,213.8 459.1,217.1 460.8,214.5 462.4,213.8 464.7,210.4 466.2,214.9 468.4,219.3 470.7,213.8 472.9,216.0 475.1,209.3 476.8,209.8 478.4,204.9 480.1,201.3 481.8,201.6 483.5,201.6 485.1,199.3 487.3,204.9 489.0,202.7 490.7,202.7 492.4,206.2 494.0,204.9 495.6,201.5 497.3,203.8 499.0,207.9 500.7,209.3 502.4,208.0 504.0,210.4 505.6,212.9 507.3,212.7 509.0,212.6 510.7,214.9 512.9,218.2 515.0,217.0 517.3,210.0 519.7,200.6 522.0,193.6 524.3,189.0 526.7,190.2 529.0,187.8 531.3,186.7 533.6,189.0 536.0,188.5 538.3,189.5 540.6,190.2 543.0,193.6 545.3,198.3 547.6,199.5 549.6,203.1 551.2,211.1 552.8,219.2 554.5,227.3 555.3,232.9 556.9,230.5 558.5,232.9 560.1,227.3 560.9,219.2 562.5,214.4 564.1,212.7 565.7,210.3 567.0,212.8 568.2,211.1 569.8,206.3 572.2,202.3 573.8,207.9 575.4,219.2 577.0,229.7 577.8,238.0 579.0,238.0 580.3,238.0 581.9,230.5 584.3,230.5 585.9,238.0 587.5,216.0 589.1,212.7 590.7,214.4 592.0,209.3 593.2,208.7 594.8,214.4 596.4,216.0 598.0,217.6 599.6,222.4 601.6,218.4 603.2,220.0 604.8,218.4 606.5,220.0 607.3,225.6 608.9,226.5 610.5,225.6 612.1,230.5 613.7,226.5 615.3,224.0 616.9,227.3 617.7,232.1 619.4,219.2 621.0,221.6 622.6,216.0 624.2,211.1 625.5,210.3 626.6,219.2 628.2,212.7 629.8,210.3 631.5,219.2 633.1,215.2 634.7,206.3 636.3,209.5 637.9,207.1 639.5,204.7 641.1,203.9 642.7,206.3 644.4,209.5 646.0,212.7 647.6,218.4 648.4,221.6 650.0,214.4 651.6,210.3 652.4,207.9" stroke="#0000ff" stroke-width="1.35"/>
</g>
<line x1="539.8" y1="19.2" x2="539.8" y2="235.5" stroke="#4a4a4a" stroke-width="1.45" stroke-dasharray="4.4 2.63"/>
<g stroke="#383838" stroke-width="1.1" fill="none">
<line x1="391.5" y1="25.5" x2="391.5" y2="236"/>
<line x1="387.5" y1="235.5" x2="652.8" y2="235.5"/>
<line x1="387.0" y1="235.5" x2="391.5" y2="235.5"/>
<line x1="388.7" y1="217.5" x2="391.5" y2="217.5"/>
<line x1="388.7" y1="207.5" x2="391.5" y2="207.5"/>
<line x1="388.7" y1="200.5" x2="391.5" y2="200.5"/>
<line x1="388.7" y1="194.5" x2="391.5" y2="194.5"/>
<line x1="388.7" y1="190.5" x2="391.5" y2="190.5"/>
<line x1="388.7" y1="186.5" x2="391.5" y2="186.5"/>
<line x1="388.7" y1="182.5" x2="391.5" y2="182.5"/>
<line x1="388.7" y1="179.5" x2="391.5" y2="179.5"/>
<line x1="387.0" y1="177.5" x2="391.5" y2="177.5"/>
<line x1="388.7" y1="159.5" x2="391.5" y2="159.5"/>
<line x1="388.7" y1="149.5" x2="391.5" y2="149.5"/>
<line x1="388.7" y1="142.5" x2="391.5" y2="142.5"/>
<line x1="388.7" y1="136.5" x2="391.5" y2="136.5"/>
<line x1="388.7" y1="132.5" x2="391.5" y2="132.5"/>
<line x1="388.7" y1="128.5" x2="391.5" y2="128.5"/>
<line x1="388.7" y1="124.5" x2="391.5" y2="124.5"/>
<line x1="388.7" y1="121.5" x2="391.5" y2="121.5"/>
<line x1="387.0" y1="119.5" x2="391.5" y2="119.5"/>
<line x1="388.7" y1="101.5" x2="391.5" y2="101.5"/>
<line x1="388.7" y1="91.5" x2="391.5" y2="91.5"/>
<line x1="388.7" y1="84.5" x2="391.5" y2="84.5"/>
<line x1="388.7" y1="78.5" x2="391.5" y2="78.5"/>
<line x1="388.7" y1="73.5" x2="391.5" y2="73.5"/>
<line x1="388.7" y1="70.5" x2="391.5" y2="70.5"/>
<line x1="388.7" y1="66.5" x2="391.5" y2="66.5"/>
<line x1="388.7" y1="63.5" x2="391.5" y2="63.5"/>
<line x1="387.0" y1="61.5" x2="391.5" y2="61.5"/>
<line x1="388.7" y1="43.5" x2="391.5" y2="43.5"/>
<line x1="388.7" y1="33.5" x2="391.5" y2="33.5"/>
<line x1="388.7" y1="26.5" x2="391.5" y2="26.5"/>
<line x1="391.5" y1="235.5" x2="391.5" y2="239.5"/>
<line x1="417.5" y1="235.5" x2="417.5" y2="237.5"/>
<line x1="443.5" y1="235.5" x2="443.5" y2="239.5"/>
<line x1="469.5" y1="235.5" x2="469.5" y2="237.5"/>
<line x1="495.5" y1="235.5" x2="495.5" y2="239.5"/>
<line x1="521.5" y1="235.5" x2="521.5" y2="237.5"/>
<line x1="548.5" y1="235.5" x2="548.5" y2="239.5"/>
<line x1="574.5" y1="235.5" x2="574.5" y2="237.5"/>
<line x1="600.5" y1="235.5" x2="600.5" y2="239.5"/>
<line x1="626.5" y1="235.5" x2="626.5" y2="237.5"/>
<line x1="652.5" y1="235.5" x2="652.5" y2="239.5"/>
</g>
<g font-family="Liberation Sans, sans-serif" font-weight="bold" stroke="#111" stroke-width="0.18" font-size="10" fill="#111" text-anchor="middle">
<text x="391.6" y="251.3">0</text>
<text x="443.7" y="251.3">10</text>
<text x="495.9" y="251.3">20</text>
<text x="548.0" y="251.3">30</text>
<text x="600.2" y="251.3">40</text>
<text x="652.3" y="251.3">50</text>
</g>
<g font-family="Liberation Sans, sans-serif" font-weight="bold" stroke="#111" stroke-width="0.18" font-size="10" fill="#111" text-anchor="end">
<text x="383.5" y="239.2">10<tspan font-size="6.8" dy="-4.2">-1</tspan></text>
<text x="383.5" y="181.1">10<tspan font-size="6.8" dy="-4.2">0</tspan></text>
<text x="383.5" y="123.0">10<tspan font-size="6.8" dy="-4.2">1</tspan></text>
<text x="383.5" y="64.9">10<tspan font-size="6.8" dy="-4.2">2</tspan></text>
</g>
<line x1="584.2" y1="93.9" x2="607.5" y2="93.9" stroke="#0000ff" stroke-width="1.4"/>
<text font-family="Liberation Sans, sans-serif" font-weight="bold" stroke="#111" stroke-width="0.18" font-size="10" fill="#111" x="609.4" y="97.5">H<tspan font-size="6.8" dy="-4.2">+</tspan></text>
<line x1="584.2" y1="106.5" x2="607.5" y2="106.5" stroke="#ff0000" stroke-width="1.4"/>
<text font-family="Liberation Sans, sans-serif" font-weight="bold" stroke="#111" stroke-width="0.18" font-size="10" fill="#111" x="609.4" y="110.1">Na<tspan font-size="6.8" dy="-4.2">+</tspan></text>
<line x1="584.2" y1="118.4" x2="607.5" y2="118.4" stroke="#ddd52c" stroke-width="1.4"/>
<text font-family="Liberation Sans, sans-serif" font-weight="bold" stroke="#111" stroke-width="0.18" font-size="10" fill="#111" x="609.4" y="122.0">Al<tspan font-size="6.8" dy="-4.2">+</tspan></text>
<line x1="584.2" y1="131.1" x2="607.5" y2="131.1" stroke="#00ffff" stroke-width="1.4"/>
<text font-family="Liberation Sans, sans-serif" font-weight="bold" stroke="#111" stroke-width="0.18" font-size="10" fill="#111" x="609.4" y="134.7">In<tspan font-size="6.8" dy="-4.2">+</tspan></text>
<line x1="584.2" y1="144.8" x2="607.5" y2="144.8" stroke="#00e800" stroke-width="1.4"/>
<text font-family="Liberation Sans, sans-serif" font-weight="bold" stroke="#111" stroke-width="0.18" font-size="10" fill="#111" x="609.4" y="148.4">Ga<tspan font-size="6.8" dy="-4.2">+</tspan></text>
<line x1="584.2" y1="157.0" x2="607.5" y2="157.0" stroke="#cc33ee" stroke-width="1.4"/>
<text font-family="Liberation Sans, sans-serif" font-weight="bold" stroke="#111" stroke-width="0.18" font-size="10" fill="#111" x="609.4" y="160.6">Cs<tspan font-size="6.8" dy="2.5">2</tspan><tspan dy="-2.5">OH</tspan><tspan font-size="6.8" dy="-4.2">+</tspan></text>
<line x1="584.2" y1="171.3" x2="607.5" y2="171.3" stroke="#bebebe" stroke-width="1.4"/>
<text font-family="Liberation Sans, sans-serif" font-weight="bold" stroke="#111" stroke-width="0.18" font-size="10" fill="#111" x="609.4" y="174.9">CsZn<tspan font-size="6.8" dy="-4.2">+</tspan></text>
<text font-family="Liberation Sans, sans-serif" font-weight="bold" stroke="#000" stroke-width="0.5" font-size="23" fill="#000" letter-spacing="0.5" x="5.2" y="20.4">(a)</text>
<text font-family="Liberation Sans, sans-serif" font-weight="bold" stroke="#000" stroke-width="0.5" font-size="23" fill="#000" letter-spacing="0.5" x="353.8" y="23.1">(b)</text>
<text font-family="Liberation Sans, sans-serif" font-weight="bold" stroke="#111" stroke-width="0.18" font-size="12.1" fill="#111" x="104.6" y="13.3">IGZO</text>
<text font-family="Liberation Sans, sans-serif" font-weight="bold" stroke="#111" stroke-width="0.18" font-size="12.1" fill="#111" x="239.8" y="13.3">Glass</text>
<text font-family="Liberation Sans, sans-serif" font-weight="bold" stroke="#111" stroke-width="0.18" font-size="12.1" fill="#111" x="449.0" y="13.3">IGZO</text>
<text font-family="Liberation Sans, sans-serif" font-weight="bold" stroke="#111" stroke-width="0.18" font-size="12.1" fill="#111" x="563.9" y="13.3">Al<tspan font-size="7.5" dy="2.6">2</tspan><tspan dy="-2.6">O</tspan><tspan font-size="7.5" dy="2.6">3</tspan><tspan dy="-2.6"> barrier</tspan></text>
<text font-family="Liberation Sans, sans-serif" font-weight="bold" stroke="#111" stroke-width="0.18" font-size="13.6" fill="#111" x="141.7" y="273.2">Depth<tspan dx="1.1"> [nm]</tspan></text>
<text font-family="Liberation Sans, sans-serif" font-weight="bold" stroke="#111" stroke-width="0.18" font-size="13.6" fill="#111" x="483.0" y="273.2">Depth<tspan dx="1.1"> [nm]</tspan></text>
<text font-family="Liberation Sans, sans-serif" font-weight="bold" stroke="#111" stroke-width="0.18" font-size="13.8" fill="#111" transform="translate(12.9,144.7) rotate(-90)">Counts</text>
<text font-family="Liberation Sans, sans-serif" font-weight="bold" stroke="#111" stroke-width="0.18" font-size="13.8" fill="#111" transform="translate(358.1,145.4) rotate(-90)">Counts</text>
</svg>
</body></html>
